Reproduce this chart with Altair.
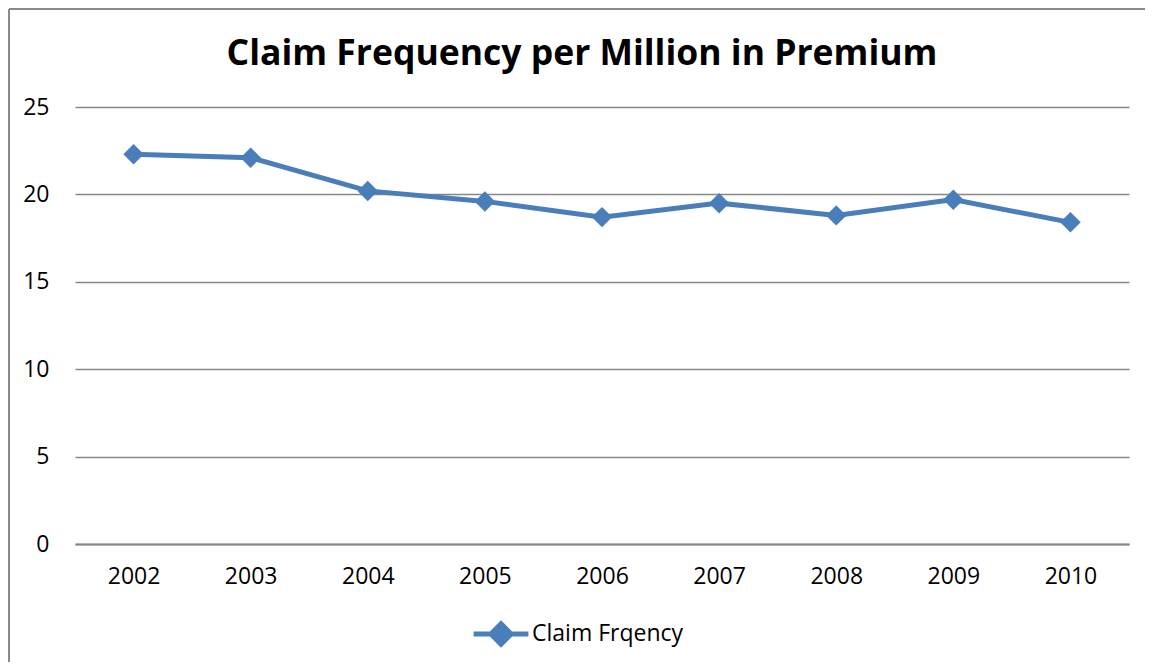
import altair as alt
import pandas as pd

years = ["2002", "2003", "2004", "2005", "2006", "2007", "2008", "2009", "2010"]
values = [22.3, 22.1, 20.2, 19.6, 18.7, 19.5, 18.8, 19.7, 18.4]
series_name = "Claim Frqency"
y_ticks = [0, 5, 10, 15, 20, 25]

df = pd.DataFrame({"year": years, "value": values, "series": [series_name] * len(years)})

FONT = "Open Sans"
BLUE = "#4a7ebb"
GRID = "#868686"

base = alt.Chart(df)

line = base.mark_line(
    strokeWidth=5,
    point=alt.OverlayMarkDef(shape="diamond", filled=True, size=420, color=BLUE),
).encode(
    x=alt.X("year:O", scale=alt.Scale(type="point", padding=0.5),
            axis=alt.Axis(title=None, labelAngle=0, ticks=False, tickSize=0,
                          domain=True, domainColor=GRID, domainWidth=2,
                          labelPadding=21, labelFontSize=23, labelColor="#000",
                          labelFont=FONT, grid=False)),
    y=alt.Y("value:Q", scale=alt.Scale(domain=[0, 25], nice=False),
            axis=alt.Axis(title=None, values=y_ticks, ticks=False, tickSize=0,
                          domain=False, grid=True, gridColor=GRID, gridWidth=1.6,
                          labelPadding=26, labelFontSize=23, labelColor="#000",
                          labelFont=FONT)),
    color=alt.Color("series:N", scale=alt.Scale(range=[BLUE]),
                    legend=alt.Legend(
                        title=None, orient="none", legendX=396, legendY=497,
                        symbolType="M-1,0H1M0,-0.37L0.37,0L0,0.37L-0.37,0Z",
                        symbolSize=3000, symbolStrokeWidth=5,
                        symbolFillColor=BLUE, symbolStrokeColor=BLUE,
                        labelFontSize=23, labelFont=FONT, labelColor="#000",
                        labelOffset=1)),
)

left_border = alt.Chart(df).mark_rule(color="#898989", strokeWidth=2).encode(
    x=alt.value(-66), y=alt.value(-98), y2=alt.value(600)
)
top_border = alt.Chart(df).mark_rule(color="#898989", strokeWidth=2).encode(
    x=alt.value(-66), x2=alt.value(1100), y=alt.value(-98)
)

chart = alt.layer(line, left_border, top_border).properties(
    width=1054,
    height=437,
    padding={"left": 67, "top": 99, "right": 16, "bottom": 118},
    autosize=alt.AutoSizeParams(type="none"),
    title=alt.Title("Claim Frequency per Million in Premium", font=FONT,
                    fontSize=35.5, fontWeight="bold", color="#000",
                    anchor="middle", baseline="alphabetic", offset=-92, dx=-20),
).configure_view(stroke=None)

chart.save("out.html", embed_options={"renderer": "svg", "actions": False})
